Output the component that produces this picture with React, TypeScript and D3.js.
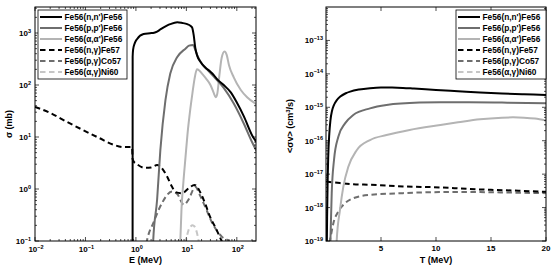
import React from 'react';
import * as d3 from 'd3';

// ---------- Left panel: cross sections sigma(E) in mb ----------
const nnE = [0.859, 0.862, 0.88, 0.95, 1.05, 1.42, 1.9, 2.3, 2.63, 3.05, 4.2, 4.8, 6.6, 8.3, 10.4, 12, 13, 14, 15, 16.5, 19, 24, 30, 35, 41, 55, 76, 100, 138, 204, 250];
const nnS = [0.02, 350, 480, 640, 760, 960, 990, 1010, 1060, 1170, 1400, 1480, 1610, 1560, 1480, 1380, 1280, 900, 520, 360, 280, 215, 180, 155, 128, 100, 72, 46, 25, 10.5, 7.8];

const ppE = [2.1, 2.2, 2.63, 3.05, 3.85, 4.8, 6.6, 9.6, 11.3, 13.5, 15, 16.5, 20.5, 27, 35, 55, 87, 138, 200, 250];
const ppS = [0.03, 0.1, 0.62, 5.6, 51, 166, 345, 500, 570, 590, 480, 370, 250, 190, 145, 88, 44, 18, 8, 5.2];

const aaE = [7.3, 7.6, 8.0, 8.7, 9.6, 10.5, 12, 13.2, 14.5, 16.2, 18, 21, 25, 30, 35, 38, 41, 45, 50, 57, 63, 70, 87, 120, 160, 250];
const aaS = [0.03, 0.1, 0.4, 1.3, 4, 11, 35, 70, 130, 200, 190, 160, 130, 100, 70, 58, 68, 150, 330, 440, 380, 240, 140, 80, 58, 42];

const ngE = [0.01, 0.02, 0.043, 0.091, 0.19, 0.36, 0.57, 0.84, 0.86, 0.9, 1.05, 1.5, 2.0, 2.63, 3.05, 4.2, 5.2, 6.3, 8.2, 11.3, 14.5, 19, 24, 30, 38, 50, 60];
const ngS = [38, 29, 19.5, 13.5, 9.5, 7.1, 6.4, 6.4, 3.8, 3.4, 3.0, 2.55, 2.6, 2.9, 2.7, 1.7, 1.1, 0.86, 0.83, 1.05, 1.2, 0.85, 0.5, 0.28, 0.18, 0.1, 0.07];

const pgE = [1.5, 1.65, 2.25, 3.3, 5.2, 6.6, 8.9, 11.2, 15.0, 19, 25, 32, 51, 69, 90];
const pgS = [0.06, 0.1, 0.23, 0.54, 0.9, 0.8, 0.5, 0.64, 1.1, 0.72, 0.4, 0.23, 0.12, 0.1, 0.07];

const agE = [9.0, 10.0, 11.0, 12.2, 13.3, 14.5, 16.0, 17.5, 18.8];
const agS = [0.06, 0.11, 0.16, 0.19, 0.2, 0.19, 0.15, 0.1, 0.065];

// ---------- Right panel: rates <sigma v>(T) in cm^3/s ----------
const nnT = [0.05, 0.1, 0.15, 0.2, 0.3, 0.4, 0.55, 0.7, 1.0, 1.3, 1.8, 2.2, 3, 4, 5, 6, 7, 8, 10, 12, 14, 16, 18, 20];
const nnR = [1e-20, 5e-19, 6.3e-18, 3.2e-17, 1.6e-16, 4.0e-16, 7.9e-16, 1.12e-15, 1.66e-15, 2.09e-15, 2.63e-15, 2.95e-15, 3.39e-15, 3.72e-15, 3.89e-15, 3.89e-15, 3.8e-15, 3.63e-15, 3.31e-15, 3.02e-15, 2.75e-15, 2.57e-15, 2.45e-15, 2.34e-15];

const ppT = [0.3, 0.4, 0.52, 0.73, 1.12, 1.73, 2.48, 4, 5.5, 8.5, 10.4, 13, 16, 20];
const ppR = [3e-21, 1e-19, 2.7e-18, 2.7e-17, 1.32e-16, 3.3e-16, 5.9e-16, 9.3e-16, 1.17e-15, 1.38e-15, 1.41e-15, 1.41e-15, 1.38e-15, 1.32e-15];

const aaT = [0.9, 0.97, 1.27, 1.58, 2.03, 2.79, 4.0, 5.5, 7.6, 10.4, 12, 14, 16, 17, 18, 19, 20];
const aaR = [1.6e-20, 1e-19, 8.5e-19, 4.3e-18, 1.66e-17, 5.2e-17, 1.05e-16, 1.48e-16, 2.1e-16, 2.95e-16, 3.55e-16, 4.4e-16, 4.9e-16, 5.0e-16, 4.9e-16, 4.6e-16, 4.0e-16];

const ngT = [0.02, 0.5, 1.27, 2.5, 4, 7, 10.4, 13, 15, 17.5, 20];
const ngR = [6.0e-18, 5.75e-18, 5.4e-18, 5.0e-18, 4.8e-18, 4.3e-18, 4.0e-18, 3.6e-18, 3.4e-18, 3.2e-18, 2.95e-18];

const pgT = [0.3, 0.36, 0.5, 0.67, 1.12, 1.73, 2.48, 4, 7, 10.4, 14, 17, 20];
const pgR = [2.5e-20, 1e-19, 1.8e-19, 3.4e-19, 7.6e-19, 1.35e-18, 1.9e-18, 2.4e-18, 2.7e-18, 2.9e-18, 2.9e-18, 2.8e-18, 2.7e-18];

// ---------- labels & ticks ----------
const seriesLabels = ["Fe56(n,n')Fe56", "Fe56(p,p')Fe56", "Fe56(\u03b1,\u03b1')Fe56", "Fe56(n,\u03b3)Fe57", "Fe56(p,\u03b3)Co57", "Fe56(\u03b1,\u03b3)Ni60"];
const leftXTickExp = [-2, -1, 0, 1, 2];
const leftYTickExp = [-1, 0, 1, 2, 3];
const rightXTicks = [5, 10, 15, 20];
const rightYTickExp = [-19, -18, -17, -16, -15, -14, -13];

const FONT = "'Liberation Sans', Arial, Helvetica, sans-serif";
const C_BLACK = '#000000';
const C_DARK = '#6e6e6e';
const C_LIGHT = '#b4b4b4';
const C_DLIGHT = '#c6c6c6';
const DASH = '5.5,3.5';
const LW = 2;

const styles = [
  { color: C_BLACK, dash: undefined },
  { color: C_DARK, dash: undefined },
  { color: C_LIGHT, dash: undefined },
  { color: C_BLACK, dash: DASH },
  { color: C_DARK, dash: DASH },
  { color: C_DLIGHT, dash: DASH },
];

function minorLog(lo: number, hi: number) {
  const out: number[] = [];
  for (let d = Math.floor(Math.log10(lo)); d <= Math.ceil(Math.log10(hi)); d++) {
    for (let k = 2; k <= 9; k++) {
      const v = k * Math.pow(10, d);
      if (v > lo && v < hi) out.push(v);
    }
  }
  return out;
}

function Pow({ x, y, exp, anchor }: { x: number; y: number; exp: number; anchor: string }) {
  const e = exp < 0 ? '\u2212' + Math.abs(exp) : String(exp);
  return (
    <text x={x} y={y} textAnchor={anchor} fontFamily={FONT} fontWeight="bold" fontSize={8} fill="#000">
      <tspan>10</tspan>
      <tspan dy={-3.5} fontSize={5.5}>{e}</tspan>
    </text>
  );
}

function Legend({ x, y, w, h }: { x: number; y: number; w: number; h: number }) {
  return (
    <g>
      <rect x={x} y={y} width={w} height={h} fill="#fff" stroke="#000" strokeWidth={0.8} />
      {seriesLabels.map((lab, i) => {
        const ry = y + 7 + i * 11;
        return (
          <g key={i}>
            <line x1={x + 2} x2={x + 24} y1={ry} y2={ry} stroke={styles[i].color} strokeWidth={LW} strokeDasharray={styles[i].dash} />
            <text x={x + 26.5} y={ry + 3} fontFamily={FONT} fontWeight="bold" fontSize={8.3} fill="#000">{lab}</text>
          </g>
        );
      })}
    </g>
  );
}

export default function App() {
  const L = { x0: 35, x1: 256, y0: 7, y1: 241 };
  const xL = d3.scaleLog().domain([0.01, 240]).range([L.x0, L.x1]);
  const yL = d3.scaleLog().domain([0.1, Math.pow(10, 3.5)]).range([L.y1, L.y0]);

  const R = { x0: 326, x1: 546, y0: 7, y1: 241 };
  const xR = d3.scaleLinear().domain([0, 20]).range([R.x0, R.x1]);
  const yR = d3.scaleLog().domain([1e-19, 1e-12]).range([R.y1, R.y0]);

  const mkLine = (xs: any, ys: any) =>
    d3.line<[number, number]>().x((d) => xs(d[0])).y((d) => ys(d[1])).curve(d3.curveMonotoneX);

  const lineL = mkLine(xL, yL);
  const lineR = mkLine(xR, yR);
  const zip = (a: number[], b: number[]) => a.map((v, i) => [v, b[i]] as [number, number]);

  const leftSeries = [zip(nnE, nnS), zip(ppE, ppS), zip(aaE, aaS), zip(ngE, ngS), zip(pgE, pgS), zip(agE, agS)];
  const rightSeries: ([number, number][] | null)[] = [zip(nnT, nnR), zip(ppT, ppR), zip(aaT, aaR), zip(ngT, ngR), zip(pgT, pgR), null];

  const majT = 4, minT = 2;

  const leftXMinor = minorLog(0.01, 240);
  const leftYMinor = minorLog(0.1, Math.pow(10, 3.5));
  const rightYMinor = minorLog(1e-19, 1e-12);

  const drawOrder = [5, 4, 3, 2, 1, 0];

  return (
    <svg width={554} height={268} style={{ position: 'absolute', left: 0, top: 0, background: '#fff' }}>
      <defs>
        <clipPath id="clipL"><rect x={L.x0} y={L.y0} width={L.x1 - L.x0} height={L.y1 - L.y0} /></clipPath>
        <clipPath id="clipR"><rect x={R.x0} y={R.y0} width={R.x1 - R.x0} height={R.y1 - R.y0} /></clipPath>
      </defs>
      <rect x={0} y={0} width={554} height={268} fill="#fff" />

      {/* ---------- LEFT PANEL ---------- */}
      <g clipPath="url(#clipL)">
        {drawOrder.map((i) => (
          <path key={i} d={lineL(leftSeries[i]) || ''} fill="none" stroke={styles[i].color} strokeWidth={LW} strokeDasharray={styles[i].dash} />
        ))}
      </g>
      <g stroke="#000" strokeWidth={0.7}>
        {leftXTickExp.map((e) => {
          const x = xL(Math.pow(10, e));
          return <g key={'lx' + e}><line x1={x} x2={x} y1={L.y1} y2={L.y1 - majT} /><line x1={x} x2={x} y1={L.y0} y2={L.y0 + majT} /></g>;
        })}
        {leftXMinor.map((v, i) => {
          const x = xL(v);
          return <g key={'lxm' + i}><line x1={x} x2={x} y1={L.y1} y2={L.y1 - minT} /><line x1={x} x2={x} y1={L.y0} y2={L.y0 + minT} /></g>;
        })}
        {leftYTickExp.map((e) => {
          const y = yL(Math.pow(10, e));
          return <g key={'ly' + e}><line x1={L.x0} x2={L.x0 + majT} y1={y} y2={y} /><line x1={L.x1} x2={L.x1 - majT} y1={y} y2={y} /></g>;
        })}
        {leftYMinor.map((v, i) => {
          const y = yL(v);
          return <g key={'lym' + i}><line x1={L.x0} x2={L.x0 + minT} y1={y} y2={y} /><line x1={L.x1} x2={L.x1 - minT} y1={y} y2={y} /></g>;
        })}
      </g>
      <rect x={L.x0} y={L.y0} width={L.x1 - L.x0} height={L.y1 - L.y0} fill="none" stroke="#000" strokeWidth={1} />
      {leftXTickExp.map((e) => <Pow key={'lxl' + e} x={xL(Math.pow(10, e)) + 1} y={252} exp={e} anchor="middle" />)}
      {leftYTickExp.map((e) => <Pow key={'lyl' + e} x={L.x0 - 4} y={yL(Math.pow(10, e)) + 3} exp={e} anchor="end" />)}
      <text x={(L.x0 + L.x1) / 2} y={263} textAnchor="middle" fontFamily={FONT} fontWeight="bold" fontSize={9}>E (MeV)</text>
      <text transform={`translate(12,${(L.y0 + L.y1) / 2}) rotate(-90)`} textAnchor="middle" fontFamily={FONT} fontWeight="bold" fontSize={9}>{'\u03c3 (mb)'}</text>
      <Legend x={38} y={10} w={89} h={69} />

      {/* ---------- RIGHT PANEL ---------- */}
      <g clipPath="url(#clipR)">
        {drawOrder.map((i) => {
          const s = rightSeries[i];
          if (!s) return null;
          return <path key={i} d={lineR(s) || ''} fill="none" stroke={styles[i].color} strokeWidth={LW} strokeDasharray={styles[i].dash} />;
        })}
      </g>
      <g stroke="#000" strokeWidth={0.7}>
        {rightXTicks.map((t) => {
          const x = xR(t);
          return <g key={'rx' + t}><line x1={x} x2={x} y1={R.y1} y2={R.y1 - majT} /><line x1={x} x2={x} y1={R.y0} y2={R.y0 + majT} /></g>;
        })}
        {rightYTickExp.map((e) => {
          const y = yR(Math.pow(10, e));
          return <g key={'ry' + e}><line x1={R.x0} x2={R.x0 + majT} y1={y} y2={y} /><line x1={R.x1} x2={R.x1 - majT} y1={y} y2={y} /></g>;
        })}
        {rightYMinor.map((v, i) => {
          const y = yR(v);
          return <g key={'rym' + i}><line x1={R.x0} x2={R.x0 + minT} y1={y} y2={y} /><line x1={R.x1} x2={R.x1 - minT} y1={y} y2={y} /></g>;
        })}
      </g>
      <rect x={R.x0} y={R.y0} width={R.x1 - R.x0} height={R.y1 - R.y0} fill="none" stroke="#000" strokeWidth={1} />
      {rightXTicks.map((t) => (
        <text key={'rxl' + t} x={xR(t)} y={251} textAnchor="middle" fontFamily={FONT} fontWeight="bold" fontSize={8}>{t}</text>
      ))}
      {rightYTickExp.map((e) => <Pow key={'ryl' + e} x={R.x0 - 3} y={yR(Math.pow(10, e)) + 3} exp={e} anchor="end" />)}
      <text x={(R.x0 + R.x1) / 2} y={263} textAnchor="middle" fontFamily={FONT} fontWeight="bold" fontSize={9}>T (MeV)</text>
      <text transform={`translate(293,${(R.y0 + R.y1) / 2 + 2}) rotate(-90)`} textAnchor="middle" fontFamily={FONT} fontWeight="bold" fontSize={9}>
        <tspan>{'<\u03c3v> (cm'}</tspan>
        <tspan dy={-3} fontSize={6}>3</tspan>
        <tspan dy={3}>/s)</tspan>
      </text>
      <Legend x={456} y={10} w={90} h={69} />
    </svg>
  );
}
